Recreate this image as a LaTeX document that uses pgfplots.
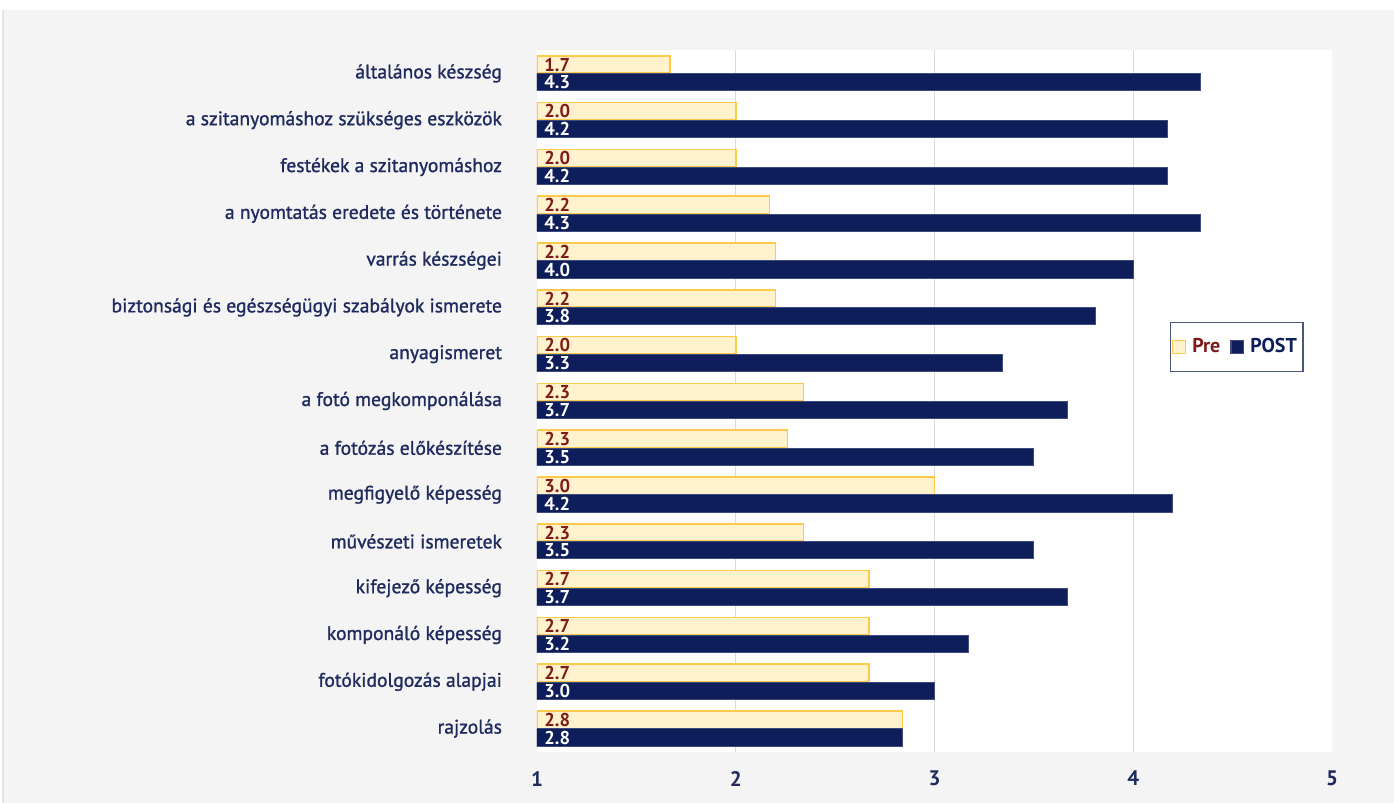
\documentclass[border=0pt]{standalone}
\usepackage{pgfplots}
\pgfplotsset{compat=1.18}
\usepackage{pgfplotstable}
\usepackage{fontspec}
\setmainfont{PT Sans}
\newfontfamily\semib[FakeBold=1.2]{PT Sans}
\definecolor{navy}{HTML}{0E1E5B}
\definecolor{labnavy}{HTML}{1F2B5E}
\definecolor{prefill}{HTML}{FFF2CC}
\definecolor{preline}{HTML}{FFC94A}
\definecolor{prered}{HTML}{7F1A1A}
\definecolor{panel}{HTML}{F4F4F4}
\definecolor{gridc}{HTML}{D9D9D9}

\pgfplotstableread{
idx pre post
0 1.67 4.34
1 2.00 4.17
2 2.00 4.17
3 2.17 4.34
4 2.20 4.00
5 2.20 3.81
6 2.00 3.34
7 2.34 3.67
8 2.26 3.50
9 3.00 4.20
10 2.34 3.50
11 2.67 3.67
12 2.67 3.17
13 2.67 3.00
14 2.84 2.84
}\data

\begin{document}
\begin{tikzpicture}[x=1pt,y=1pt]
\useasboundingbox (0,0) rectangle (697,401.5);
\fill[white] (0,0) rectangle (697,401.5);
\fill[panel] (1.5,0) rectangle (697,396.5);
\draw[gridc!70, line width=0.6pt] (1.5,0) -- (1.5,396.5);
\begin{axis}[
  at={(268.5pt,25.5pt)}, anchor=south west,
  scale only axis, width=397.5pt, height=351pt,
  axis background/.style={fill=white},
  axis line style={draw=none},
  xmin=0, xmax=4, ymin=-0.5, ymax=14.5,
  y dir=reverse,
  xtick={0,1,2,3,4}, xticklabels={1,2,3,4,5},
  extra x ticks={1,2,3}, extra x tick labels={},
  extra x tick style={grid=major, major tick length=0pt},
  grid style={gridc, line width=0.6pt},
  major tick length=0pt,
  xticklabel style={font=\bfseries\fontsize{10.5}{12}\selectfont, text=labnavy, yshift=-6pt},
  /pgf/number format/assume math mode=true,
  ytick={0,...,14},
  yticklabels={általános készség, a szitanyomáshoz szükséges eszközök, festékek a szitanyomáshoz, a nyomtatás eredete és története, varrás készségei, biztonsági és egészségügyi szabályok ismerete, anyagismeret, a fotó megkomponálása, a fotózás előkészítése, megfigyelő képesség, művészeti ismeretek, kifejező képesség, komponáló képesség, fotókidolgozás alapjai, rajzolás},
  yticklabel style={font=\semib\fontsize{9.8}{12}\selectfont, text=labnavy, xshift=-14pt},
  legend style={at={(0.88,0.577)}, anchor=center, draw=labnavy!80, line width=0.6pt,
    legend columns=2, font=\bfseries\fontsize{10}{11}\selectfont,
    inner xsep=1pt, inner ysep=6pt,
    /tikz/every odd column/.append style={column sep=1pt},
    /tikz/every even column/.append style={column sep=3pt}},
  legend image code/.code={\draw[#1, line width=0.6pt] (0pt,-3.2pt) rectangle (6.4pt,3.2pt);},
  legend cell align=left,
]
\addplot[xbar, bar width=0.37, bar shift=-0.19, fill=prefill, draw=preline, line width=0.8pt]
  table[x expr=\thisrow{pre}-1, y=idx] {\data};
\addlegendentry{\textcolor{prered}{Pre}}
\addplot[xbar, bar width=0.37, bar shift=0.19, fill=navy, draw=navy!80!white, line width=0.5pt]
  table[x expr=\thisrow{post}-1, y=idx] {\data};
\addlegendentry{\textcolor{navy}{POST}}
\addplot[forget plot, only marks, mark=none, point meta=explicit,
  nodes near coords={\pgfmathprintnumber[fixed,fixed zerofill,precision=1]{\pgfplotspointmeta}},
  nodes near coords style={anchor=west, xshift=3.5pt, inner sep=0pt, text=prered, font=\bfseries\fontsize{9.3}{10}\selectfont}]
  table[x expr=0, y expr=\thisrow{idx}-0.19, meta=pre] {\data};
\addplot[forget plot, only marks, mark=none, point meta=explicit,
  nodes near coords={\pgfmathprintnumber[fixed,fixed zerofill,precision=1]{\pgfplotspointmeta}},
  nodes near coords style={anchor=west, xshift=3.5pt, inner sep=0pt, text=white, font=\bfseries\fontsize{9.3}{10}\selectfont}]
  table[x expr=0, y expr=\thisrow{idx}+0.19, meta=post] {\data};
\end{axis}
\end{tikzpicture}
\end{document}
